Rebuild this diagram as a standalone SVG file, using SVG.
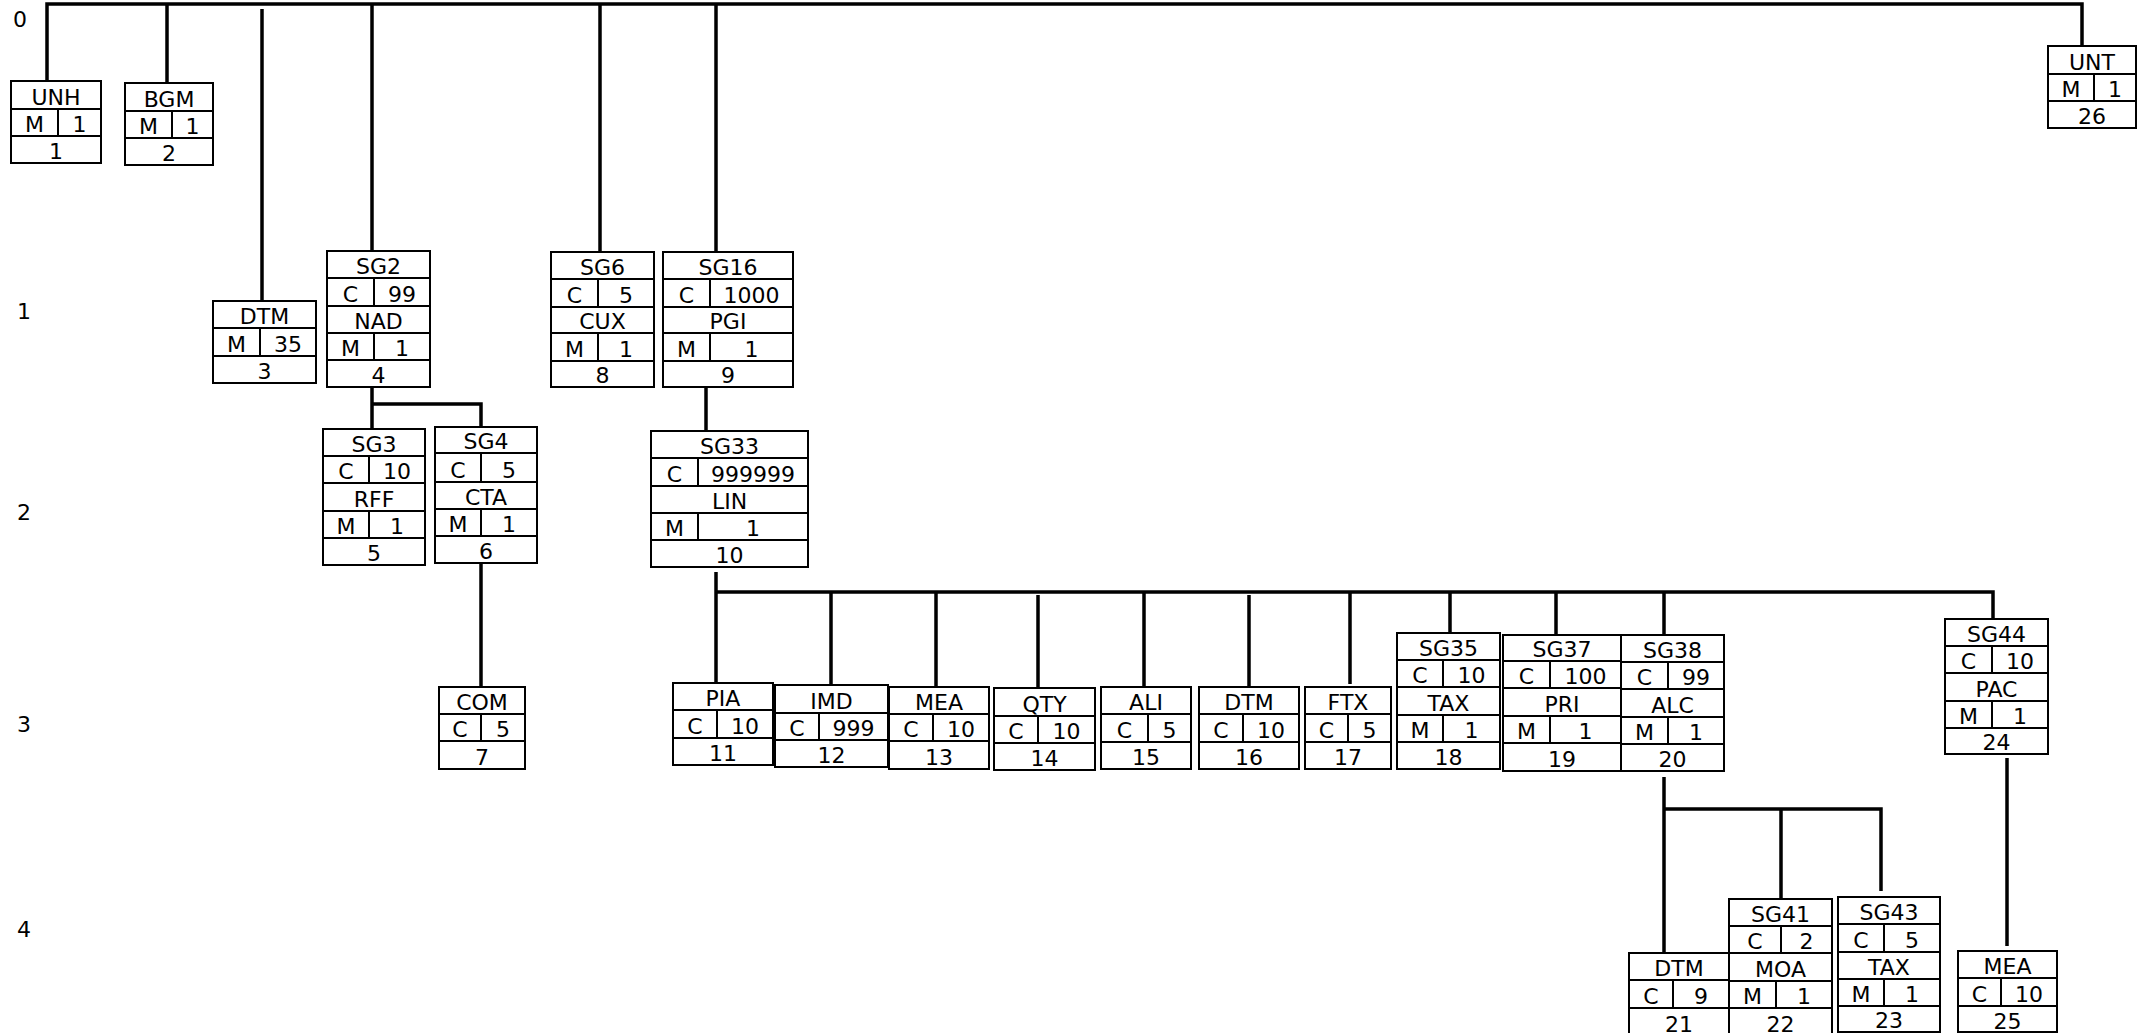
<svg xmlns="http://www.w3.org/2000/svg" width="2137" height="1033" viewBox="0 0 2137 1033">
<style>
.bg{fill:#fff}
.node rect{fill:#fff;stroke:#000;stroke-width:2}
.node path{fill:none;stroke:#000;stroke-width:2}
text{font-family:"DejaVu Sans",Verdana,sans-serif;font-size:22px;fill:#000;text-anchor:middle}
.conn path{fill:none;stroke:#000;stroke-width:3.5;stroke-linecap:butt;stroke-linejoin:miter}
</style>
<rect class="bg" x="0" y="0" width="2137" height="1033"/>
<g id="levels">
<text x="20" y="27">0</text>
<text x="24" y="319">1</text>
<text x="24" y="520">2</text>
<text x="24" y="732">3</text>
<text x="24" y="937">4</text>
</g>
<g id="connectors" class="conn">
<path d="M47,81 V4 H2082 V46"/>
<path d="M167,4 V83"/>
<path d="M262,9 V301"/>
<path d="M372,4 V251"/>
<path d="M600,4 V252"/>
<path d="M716,4 V252"/>
<path d="M372,387 V429 M372,404 H481 V427"/>
<path d="M481,563 V687"/>
<path d="M706,387 V431"/>
<path d="M716,572 V683 M716,592 H1993 V619"/>
<path d="M831,592 V685 M936,592 V687 M1038,595 V688 M1144,592 V687 M1249,595 V687 M1350,592 V684 M1450,592 V633 M1556,592 V635 M1664,592 V635"/>
<path d="M1664,777 V953 M1664,809 H1881 V891 M1781,809 V899"/>
<path d="M2007,758 V946"/>
</g>
<g id="n-UNH" class="node"><rect x="11" y="81" width="90" height="82"/><path d="M11,109 H101 M11,136 H101 M58,109 V136"/><text x="56" y="105">UNH</text><text x="34.5" y="132">M</text><text x="79.5" y="132">1</text><text x="56" y="159">1</text></g>
<g id="n-BGM" class="node"><rect x="125" y="83" width="88" height="82"/><path d="M125,111 H213 M125,138 H213 M172,111 V138"/><text x="169" y="107">BGM</text><text x="148.5" y="134">M</text><text x="192.5" y="134">1</text><text x="169" y="161">2</text></g>
<g id="n-UNT" class="node"><rect x="2048" y="46" width="88" height="82"/><path d="M2048,74 H2136 M2048,101 H2136 M2094,74 V101"/><text x="2092" y="70">UNT</text><text x="2071" y="97">M</text><text x="2115" y="97">1</text><text x="2092" y="124">26</text></g>
<g id="n-DTM3" class="node"><rect x="213" y="301" width="103" height="82"/><path d="M213,328 H316 M213,356 H316 M260,328 V356"/><text x="264.5" y="324">DTM</text><text x="236.5" y="352">M</text><text x="288" y="352">35</text><text x="264.5" y="379">3</text></g>
<g id="n-SG2" class="node"><rect x="327" y="251" width="103" height="136"/><path d="M327,278 H430 M327,306 H430 M327,333 H430 M327,360 H430 M374,278 V306 M374,333 V360"/><text x="378.5" y="274">SG2</text><text x="350.5" y="302">C</text><text x="402" y="302">99</text><text x="378.5" y="329">NAD</text><text x="350.5" y="356">M</text><text x="402" y="356">1</text><text x="378.5" y="383">4</text></g>
<g id="n-SG6" class="node"><rect x="551" y="252" width="103" height="135"/><path d="M551,279 H654 M551,307 H654 M551,333 H654 M551,361 H654 M598,279 V307 M598,333 V361"/><text x="602.5" y="275">SG6</text><text x="574.5" y="303">C</text><text x="626" y="303">5</text><text x="602.5" y="329">CUX</text><text x="574.5" y="357">M</text><text x="626" y="357">1</text><text x="602.5" y="383">8</text></g>
<g id="n-SG16" class="node"><rect x="663" y="252" width="130" height="135"/><path d="M663,279 H793 M663,307 H793 M663,333 H793 M663,361 H793 M710,279 V307 M710,333 V361"/><text x="728" y="275">SG16</text><text x="686.5" y="303">C</text><text x="751.5" y="303">1000</text><text x="728" y="329">PGI</text><text x="686.5" y="357">M</text><text x="751.5" y="357">1</text><text x="728" y="383">9</text></g>
<g id="n-SG3" class="node"><rect x="323" y="429" width="102" height="136"/><path d="M323,456 H425 M323,483 H425 M323,511 H425 M323,538 H425 M369,456 V483 M369,511 V538"/><text x="374" y="452">SG3</text><text x="346" y="479">C</text><text x="397" y="479">10</text><text x="374" y="507">RFF</text><text x="346" y="534">M</text><text x="397" y="534">1</text><text x="374" y="561">5</text></g>
<g id="n-SG4" class="node"><rect x="435" y="427" width="102" height="136"/><path d="M435,453 H537 M435,482 H537 M435,509 H537 M435,536 H537 M481,453 V482 M481,509 V536"/><text x="486" y="449">SG4</text><text x="458" y="478">C</text><text x="509" y="478">5</text><text x="486" y="505">CTA</text><text x="458" y="532">M</text><text x="509" y="532">1</text><text x="486" y="559">6</text></g>
<g id="n-SG33" class="node"><rect x="651" y="431" width="157" height="136"/><path d="M651,458 H808 M651,486 H808 M651,513 H808 M651,540 H808 M698,458 V486 M698,513 V540"/><text x="729.5" y="454">SG33</text><text x="674.5" y="482">C</text><text x="753" y="482">999999</text><text x="729.5" y="509">LIN</text><text x="674.5" y="536">M</text><text x="753" y="536">1</text><text x="729.5" y="563">10</text></g>
<g id="n-COM" class="node"><rect x="439" y="687" width="86" height="82"/><path d="M439,714 H525 M439,741 H525 M481,714 V741"/><text x="482" y="710">COM</text><text x="460" y="737">C</text><text x="503" y="737">5</text><text x="482" y="765">7</text></g>
<g id="n-PIA" class="node"><rect x="673" y="683" width="100" height="82"/><path d="M673,710 H773 M673,738 H773 M717,710 V738"/><text x="723" y="706">PIA</text><text x="695" y="734">C</text><text x="745" y="734">10</text><text x="723" y="761">11</text></g>
<g id="n-IMD" class="node"><rect x="775" y="685" width="113" height="82"/><path d="M775,713 H888 M775,740 H888 M819,713 V740"/><text x="831.5" y="709">IMD</text><text x="797" y="736">C</text><text x="853.5" y="736">999</text><text x="831.5" y="763">12</text></g>
<g id="n-MEA13" class="node"><rect x="889" y="687" width="100" height="82"/><path d="M889,714 H989 M889,741 H989 M933,714 V741"/><text x="939" y="710">MEA</text><text x="911" y="737">C</text><text x="961" y="737">10</text><text x="939" y="765">13</text></g>
<g id="n-QTY" class="node"><rect x="994" y="688" width="101" height="82"/><path d="M994,716 H1095 M994,743 H1095 M1038,716 V743"/><text x="1044.5" y="712">QTY</text><text x="1016" y="739">C</text><text x="1066.5" y="739">10</text><text x="1044.5" y="766">14</text></g>
<g id="n-ALI" class="node"><rect x="1101" y="687" width="90" height="82"/><path d="M1101,714 H1191 M1101,742 H1191 M1148,714 V742"/><text x="1146" y="710">ALI</text><text x="1124.5" y="738">C</text><text x="1169.5" y="738">5</text><text x="1146" y="765">15</text></g>
<g id="n-DTM16" class="node"><rect x="1199" y="687" width="100" height="82"/><path d="M1199,714 H1299 M1199,742 H1299 M1243,714 V742"/><text x="1249" y="710">DTM</text><text x="1221" y="738">C</text><text x="1271" y="738">10</text><text x="1249" y="765">16</text></g>
<g id="n-FTX" class="node"><rect x="1305" y="687" width="86" height="82"/><path d="M1305,714 H1391 M1305,742 H1391 M1348,714 V742"/><text x="1348" y="710">FTX</text><text x="1326.5" y="738">C</text><text x="1369.5" y="738">5</text><text x="1348" y="765">17</text></g>
<g id="n-SG35" class="node"><rect x="1397" y="633" width="103" height="136"/><path d="M1397,660 H1500 M1397,687 H1500 M1397,715 H1500 M1397,742 H1500 M1443,660 V687 M1443,715 V742"/><text x="1448.5" y="656">SG35</text><text x="1420" y="683">C</text><text x="1471.5" y="683">10</text><text x="1448.5" y="711">TAX</text><text x="1420" y="738">M</text><text x="1471.5" y="738">1</text><text x="1448.5" y="765">18</text></g>
<g id="n-SG37" class="node"><rect x="1503" y="635" width="118" height="136"/><path d="M1503,661 H1621 M1503,688 H1621 M1503,716 H1621 M1503,743 H1621 M1550,661 V688 M1550,716 V743"/><text x="1562" y="657">SG37</text><text x="1526.5" y="684">C</text><text x="1585.5" y="684">100</text><text x="1562" y="712">PRI</text><text x="1526.5" y="739">M</text><text x="1585.5" y="739">1</text><text x="1562" y="767">19</text></g>
<g id="n-SG38" class="node"><rect x="1621" y="635" width="103" height="136"/><path d="M1621,662 H1724 M1621,689 H1724 M1621,717 H1724 M1621,744 H1724 M1668,662 V689 M1668,717 V744"/><text x="1672.5" y="658">SG38</text><text x="1644.5" y="685">C</text><text x="1696" y="685">99</text><text x="1672.5" y="713">ALC</text><text x="1644.5" y="740">M</text><text x="1696" y="740">1</text><text x="1672.5" y="767">20</text></g>
<g id="n-SG44" class="node"><rect x="1945" y="619" width="103" height="135"/><path d="M1945,646 H2048 M1945,673 H2048 M1945,701 H2048 M1945,728 H2048 M1992,646 V673 M1992,701 V728"/><text x="1996.5" y="642">SG44</text><text x="1968.5" y="669">C</text><text x="2020" y="669">10</text><text x="1996.5" y="697">PAC</text><text x="1968.5" y="724">M</text><text x="2020" y="724">1</text><text x="1996.5" y="750">24</text></g>
<g id="n-DTM21" class="node"><rect x="1629" y="953" width="100" height="83"/><path d="M1629,980 H1729 M1629,1008 H1729 M1673,980 V1008"/><text x="1679" y="976">DTM</text><text x="1651" y="1004">C</text><text x="1701" y="1004">9</text><text x="1679" y="1032">21</text></g>
<g id="n-SG41" class="node"><rect x="1729" y="899" width="103" height="137"/><path d="M1729,926 H1832 M1729,953 H1832 M1729,981 H1832 M1729,1008 H1832 M1781,926 V953 M1776,981 V1008"/><text x="1780.5" y="922">SG41</text><text x="1755" y="949">C</text><text x="1806.5" y="949">2</text><text x="1780.5" y="977">MOA</text><text x="1752.5" y="1004">M</text><text x="1804" y="1004">1</text><text x="1780.5" y="1032">22</text></g>
<g id="n-SG43" class="node"><rect x="1838" y="897" width="102" height="135"/><path d="M1838,924 H1940 M1838,952 H1940 M1838,979 H1940 M1838,1006 H1940 M1884,924 V952 M1884,979 V1006"/><text x="1889" y="920">SG43</text><text x="1861" y="948">C</text><text x="1912" y="948">5</text><text x="1889" y="975">TAX</text><text x="1861" y="1002">M</text><text x="1912" y="1002">1</text><text x="1889" y="1028">23</text></g>
<g id="n-MEA25" class="node"><rect x="1958" y="951" width="99" height="81"/><path d="M1958,978 H2057 M1958,1006 H2057 M2001,978 V1006"/><text x="2007.5" y="974">MEA</text><text x="1979.5" y="1002">C</text><text x="2029" y="1002">10</text><text x="2007.5" y="1029">25</text></g>
</svg>
